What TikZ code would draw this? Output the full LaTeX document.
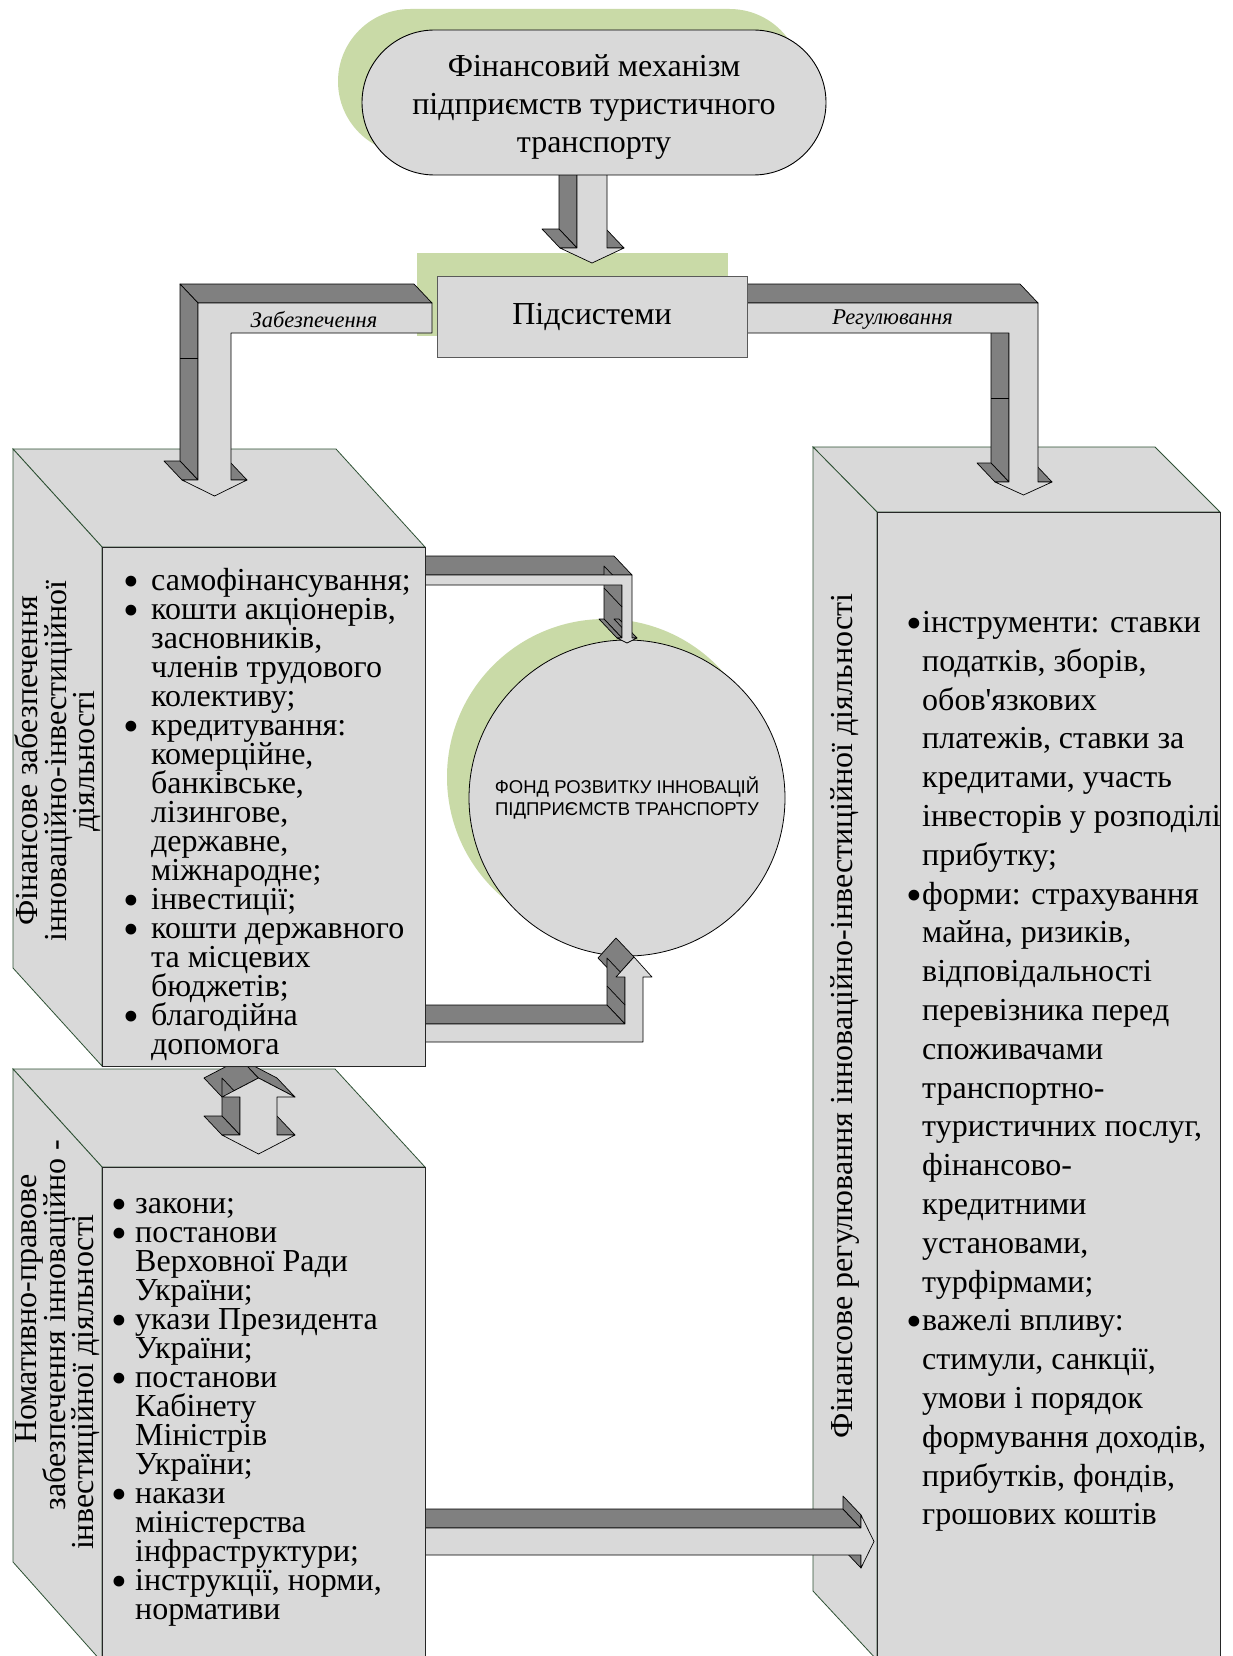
\documentclass[tikz,border=0pt]{standalone}
\usepackage{fontspec}
\setmainfont{Liberation Serif}[Ligatures=TeXOff]
\newfontfamily\arialfont{Liberation Sans}
\usetikzlibrary{shapes.misc}

\definecolor{facegrey}{HTML}{D9D9D9}
\definecolor{sidegrey}{HTML}{808080}
\definecolor{leafgreen}{HTML}{C9DAA7}
\definecolor{cubeedge}{HTML}{2E5134}
\definecolor{boxedge}{HTML}{5A5A5A}

% extrusion offset of the block arrows (towards the upper left)
\newcommand\extx{-18}
\newcommand\exty{-19}

% block arrow: #1,#2 first corner, #3 the other corners (x/y, ...) ending with the first one;
% corners run counter-clockwise on the page, only faces turned to the viewer are drawn
\newcommand\blockarrow[3]{%
  \foreach \x/\y [remember=\x as \px (initially #1), remember=\y as \py (initially #2)] in {#3}{%
    \pgfmathsetmacro\facing{(\x-\px)*(\exty)-(\y-\py)*(\extx)}%
    \ifdim\facing pt>0pt
      \filldraw[arrowside] (\px,\py) -- (\x,\y) -- ++(\extx,\exty) -- ([shift={(\extx,\exty)}]\px,\py) -- cycle;
    \fi
  }%
  \filldraw[arrowfront] (#1,#2) \foreach \x/\y in {#3}{ -- (\x,\y)} -- cycle;
}

% fixed line pitch, whatever the glyph heights
\newcommand\fixedpitch{\lineskiplimit=-100pt\relax\lineskip=0pt\relax}
\newcommand\bulletbox[1]{\makebox[#1][l]{\raisebox{-6pt}{\fontsize{45}{29}\selectfont\textbullet}}}
\newcommand\tightbullet{\llap{\raisebox{-6pt}{\fontsize{45}{38}\selectfont\textbullet}}}

\begin{document}
\begin{tikzpicture}[x=1pt,y=-1pt,
  arrowside/.style={fill=sidegrey,draw=black,line width=0.7pt,line join=round},
  arrowfront/.style={fill=facegrey,draw=black,line width=0.7pt,line join=round},
  cubeface/.style={fill=facegrey,draw=cubeedge,line width=0.8pt},
  cubefront/.style={fill=facegrey,draw=black!85,line width=0.9pt},
  listtext/.style={font=\fontsize{32}{29}\selectfont\fixedpitch,
    align=left,inner sep=0pt,anchor=north west},
  sidetext/.style={font=\fontsize{32}{28.5}\selectfont\fixedpitch,
    align=center,inner sep=0pt,rotate=90},
  tag/.style={font=\itshape\fontsize{22.5}{26}\selectfont,inner sep=0pt}]

\fill[white] (0,0) rectangle (1232,1656);
\useasboundingbox (0,0) rectangle (1232,1656);

% green backdrops
\fill[leafgreen,rounded corners=72.5pt] (338,9) rectangle (802,154);
\fill[leafgreen] (417,253) rectangle (728,336);

% arrow from the mechanism down to the subsystems
\blockarrow{607}{172}{577/172, 577/248, 560/248, 592/263, 624/248, 607/248, 607/172}

% the strut on the first line sets the three lines a little lower in the shape
\node[name=mech,rounded rectangle,draw=black,fill=facegrey,line width=0.9pt,
  minimum width=464pt,minimum height=145pt,inner sep=0pt,align=center,
  font=\fontsize{32}{38}\selectfont] at (594,102.5)
  {\rule{0pt}{30pt}Фінансовий механізм\\підприємств туристичного\\транспорту};

% development fund
\fill[leafgreen] (605,777) circle (158);
\node[name=fund,circle,draw=black,fill=facegrey,line width=0.8pt,minimum size=316pt,
  inner sep=0pt,align=center,font=\arialfont\fontsize{18.5}{22}\selectfont] at (627,798)
  {ФОНД РОЗВИТКУ ІННОВАЦІЙ\\ПІДПРИЄМСТВ ТРАНСПОРТУ};

% right block: regulation
\filldraw[cubeface] (813,447) -- (1155,447) -- (1220,512) -- (877,512) -- cycle;
\filldraw[cubeface] (813,447) -- (877,512) -- (877,1660) -- (813,1591) -- cycle;
\filldraw[cubefront] (877,512) rectangle (1220,1662);

% arrow from the legal block to the regulation block
\blockarrow{861}{1528}{425/1528, 425/1555, 861/1555, 861/1568, 874/1541.5, 861/1515, 861/1528}

% arrows between the financing block and the fund
\blockarrow{632}{575}{425/575, 425/585, 622/585, 622/638, 617/638, 627/643, 637/638, 632/638, 632/575}
\draw[line width=0.7pt] (604,588) -- (622,607);
\blockarrow{634}{957}{616/977, 625/977, 625/1024, 425/1024, 425/1042, 643/1042, 643/977, 652/977, 634/957}
\draw[line width=0.7pt] (607,986) -- (625,1005);

% lower left block: legal support
\filldraw[cubeface] (13,1069) -- (335,1069) -- (425,1167) -- (102,1167) -- cycle;
\filldraw[cubeface] (13,1069) -- (102,1167) -- (102,1662) -- (13,1562) -- cycle;
\filldraw[cubefront] (102,1167) rectangle (425,1662);

% two-way arrow between the left blocks
\blockarrow{258.5}{1078}{222/1097, 240/1097, 240/1135, 222/1135, 258.5/1154, 295/1135, 277/1135, 277/1097, 295/1097, 258.5/1078}

% upper left block: financial support
\filldraw[cubeface] (13,449) -- (336,449) -- (425,547) -- (102,547) -- cycle;
\filldraw[cubeface] (13,449) -- (102,547) -- (102,1066) -- (13,968) -- cycle;
\filldraw[cubefront] (102,547) rectangle (425,1066);

% arrows from the subsystems to the two branches
\blockarrow{432}{303}{198/303, 198/480, 182/480, 214.5/496, 247/480, 231/480, 231/333, 432/333, 432/303}
\draw[line width=0.9pt] (180,358) -- (198,358);
\blockarrow{1038}{303}{747/303, 747/333, 1009/333, 1009/482, 995/482, 1023.5/495, 1052/482, 1038/482, 1038/303}
\draw[line width=0.9pt] (991,398) -- (1009,398);

\node[name=subs,draw=boxedge,fill=facegrey,line width=1pt,minimum width=310pt,
  minimum height=81pt,inner sep=0pt,font=\fontsize{32}{38}\selectfont] at (592,316.5) {Підсистеми};

\node[name=zabtag,tag] at (314,320) {Забезпечення};
\node[name=regtag,tag] at (892.5,320) {Регулювання};

% block texts
\node[name=finside,sidetext] at (58,761)
  {Фінансове забезпечення\\інноваційно-інвестиційної\\діяльності};

\node[name=finlist,listtext] at (123,568) {%
\bulletbox{28pt}самофінансування;\\
\bulletbox{28pt}кошти акціонерів,\\
\hspace*{28pt}засновників,\\
\hspace*{28pt}членів трудового\\
\hspace*{28pt}колективу;\\
\bulletbox{28pt}кредитування:\\
\hspace*{28pt}комерційне,\\
\hspace*{28pt}банківське,\\
\hspace*{28pt}лізингове,\\
\hspace*{28pt}державне,\\
\hspace*{28pt}міжнародне;\\
\bulletbox{28pt}інвестиції;\\
\bulletbox{28pt}кошти державного\\
\hspace*{28pt}та місцевих\\
\hspace*{28pt}бюджетів;\\
\bulletbox{28pt}благодійна\\
\hspace*{28pt}допомога};

\node[name=legside1,sidetext] at (29,1309) {Номативно-правове};
\node[name=legside2,sidetext] at (57.5,1325) {забезпечення інноваційно -};
\node[name=legside3,sidetext] at (86,1382) {інвестиційної діяльності};

\node[name=leglist,listtext] at (111,1198) {%
\bulletbox{24pt}закони;\\
\bulletbox{24pt}постанови\\
\hspace*{24pt}Верховної Ради\\
\hspace*{24pt}України;\\
\bulletbox{24pt}укази Президента\\
\hspace*{24pt}України;\\
\bulletbox{24pt}постанови\\
\hspace*{24pt}Кабінету\\
\hspace*{24pt}Міністрів\\
\hspace*{24pt}України;\\
\bulletbox{24pt}накази\\
\hspace*{24pt}міністерства\\
\hspace*{24pt}інфраструктури;\\
\bulletbox{24pt}інструкції, норми,\\
\hspace*{24pt}нормативи};

\node[name=regside,sidetext] at (845,1016)
  {Фінансове регулювання інноваційно-інвестиційної діяльності};

\node[name=reglist,listtext,font=\fontsize{32}{38.8}\selectfont\fixedpitch]
  at (922,611) {%
\tightbullet інструменти: ставки\\
податків, зборів,\\
обов'язкових\\
платежів, ставки за\\
кредитами, участь\\
інвесторів у розподілі\\
прибутку;\\
\tightbullet форми: страхування\\
майна, ризиків,\\
відповідальності\\
перевізника перед\\
споживачами\\
транспортно-\\
туристичних послуг,\\
фінансово-\\
кредитними\\
установами,\\
турфірмами;\\
\tightbullet важелі впливу:\\
стимули, санкції,\\
умови і порядок\\
формування доходів,\\
прибутків, фондів,\\
грошових коштів};

\end{tikzpicture}
\end{document}
